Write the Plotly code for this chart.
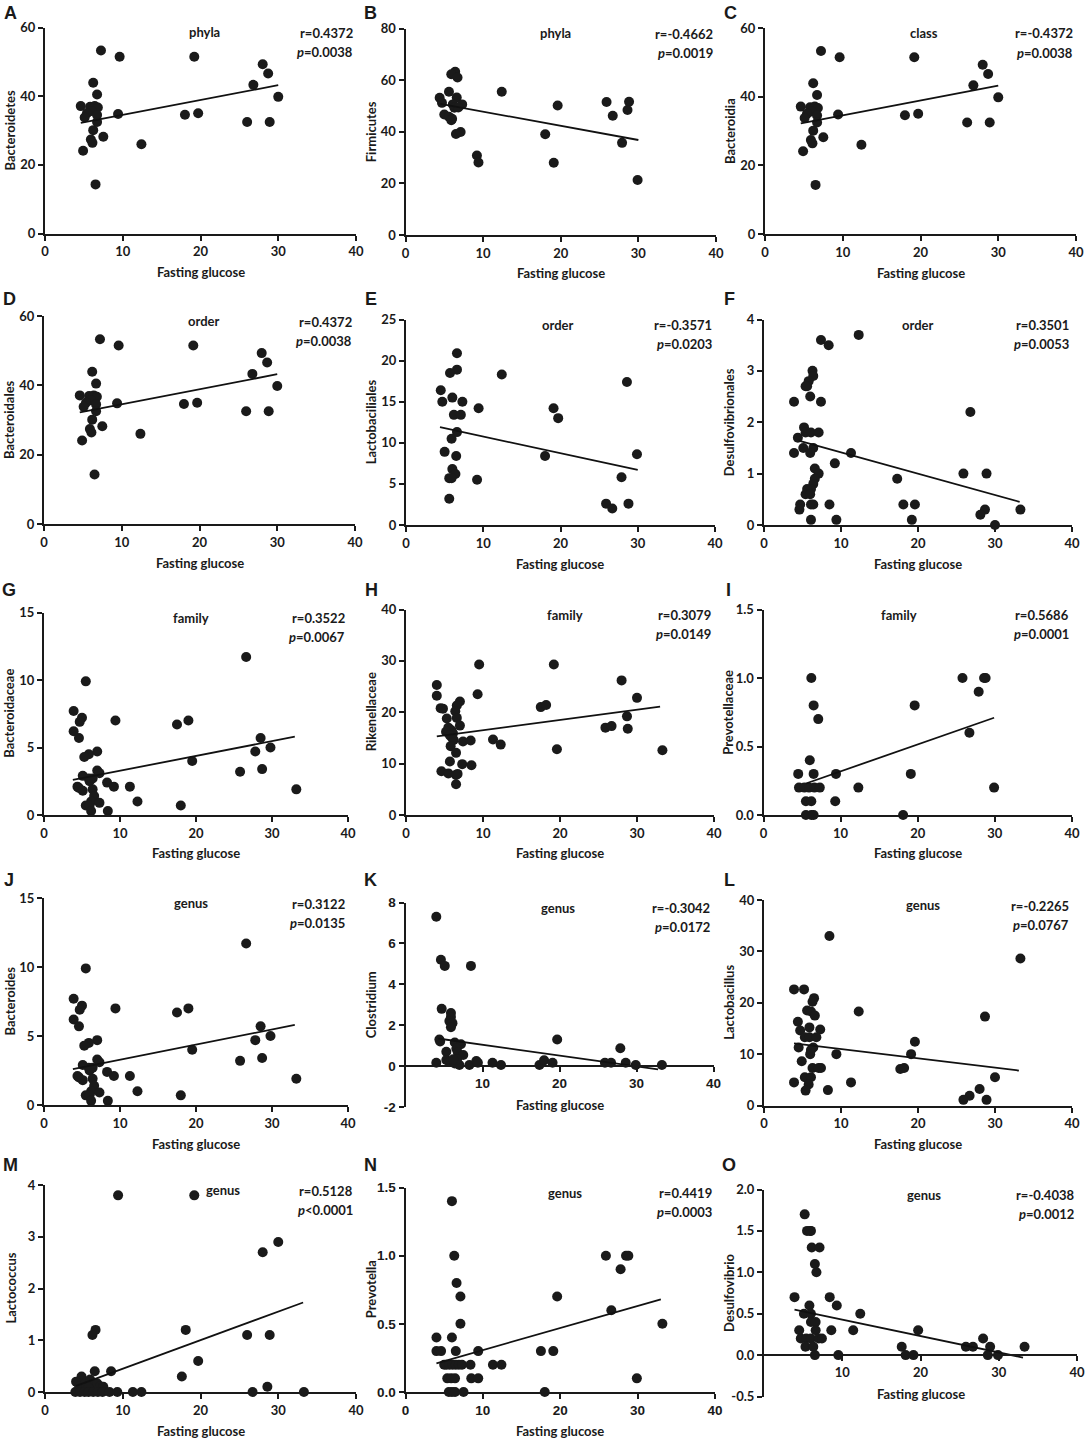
import plotly.graph_objects as go

W, H = 1087, 1440
FONT = "Lato"
ARIAL = "Liberation Sans"

# ---------------- data (x = fasting glucose) ----------------
bacteroidetes_x = [7.2, 9.6, 19.2, 28.0, 28.7, 26.8, 6.2, 6.7, 30.0, 4.6, 5.8, 6.4, 6.8, 6.0, 5.4,
                   6.7, 5.1, 9.4, 18.0, 19.7, 6.7, 26.0, 28.9, 6.2, 7.5, 5.9, 6.1, 12.4, 4.9, 6.5]
bacteroidetes_y = [53.3, 51.5, 51.5, 49.3, 46.6, 43.3, 43.9, 40.5, 39.8, 37.1, 36.9, 37.1, 36.7, 35.7, 35.0,
                   34.5, 33.8, 34.8, 34.6, 35.0, 32.5, 32.5, 32.5, 30.1, 28.2, 27.4, 26.4, 26.0, 24.1, 14.3]
bacteroidetes_fit = ([4.6, 30.0], [32.2, 43.2])

firmicutes_x = [6.4, 5.9, 6.7, 12.4, 5.6, 4.4, 6.6, 4.7, 7.3, 6.1, 6.3, 6.8, 19.6, 25.9, 28.8,
                28.6, 26.7, 5.0, 5.6, 6.0, 5.9, 6.5, 7.1, 18.0, 27.9, 9.2, 9.4, 19.1, 29.9]
firmicutes_y = [63.2, 62.3, 61.0, 55.5, 55.5, 53.2, 53.3, 51.2, 50.6, 50.6, 49.3, 49.4, 50.2, 51.5, 51.6,
                48.4, 46.2, 46.7, 45.8, 45.0, 44.5, 39.1, 39.9, 39.0, 35.7, 30.8, 28.1, 28.0, 21.3]
firmicutes_fit = ([4.5, 30.0], [50.8, 36.8])

lactobacillales_x = [6.6, 6.6, 5.7, 12.4, 28.6, 4.5, 6.0, 4.7, 7.3, 9.4, 19.1, 19.7, 6.2, 7.1, 6.6,
                     5.9, 5.0, 6.5, 18.0, 29.9, 6.0, 6.4, 5.6, 5.9, 9.2, 27.9, 5.6, 25.9, 26.7, 28.8]
lactobacillales_y = [20.9, 18.9, 18.5, 18.3, 17.4, 16.4, 15.5, 15.0, 15.0, 14.2, 14.2, 13.0, 13.4, 13.4, 11.3,
                     10.5, 8.9, 8.4, 8.4, 8.6, 6.8, 6.2, 5.7, 5.7, 5.5, 5.8, 3.2, 2.6, 2.0, 2.6]
lactobacillales_fit = ([4.4, 30.0], [11.9, 6.7])

desulfovibrionales_x = [12.3, 7.4, 8.4, 6.3, 6.4, 5.8, 5.6, 5.4, 6.0, 3.9, 7.4, 26.8, 5.2, 5.4, 6.1, 7.1,
                        4.4, 5.1, 6.4, 3.9, 6.0, 11.3, 9.2, 6.6, 7.1, 6.6, 17.3, 25.9, 28.9, 6.4, 6.1, 5.6,
                        5.4, 6.0, 4.7, 6.1, 6.4, 8.5, 18.1, 19.6, 4.6, 28.7, 28.1, 33.3, 6.1, 9.4, 19.2, 30.0]
desulfovibrionales_y = [3.7, 3.6, 3.5, 3.0, 2.9, 2.8, 2.7, 2.7, 2.5, 2.4, 2.4, 2.2, 1.9, 1.8, 1.8, 1.8,
                        1.7, 1.5, 1.5, 1.4, 1.4, 1.4, 1.2, 1.1, 1.0, 0.9, 0.9, 1.0, 1.0, 0.8, 0.7, 0.7,
                        0.6, 0.6, 0.4, 0.4, 0.4, 0.4, 0.4, 0.4, 0.3, 0.3, 0.2, 0.3, 0.1, 0.1, 0.1, 0.0]
desulfovibrionales_fit = ([4.5, 33.2], [1.64, 0.45])

bacteroidaceae_x = [26.6, 5.5, 3.9, 5.0, 4.7, 9.4, 19.0, 17.5, 3.9, 4.6, 28.5, 29.8, 27.8, 7.0, 5.9,
                    5.3, 19.5, 7.0, 7.3, 25.8, 28.7, 5.1, 5.9, 6.4, 6.0, 8.3, 4.4, 4.6, 9.2, 11.3,
                    33.2, 5.1, 6.4, 6.6, 6.2, 7.3, 12.3, 5.5, 6.0, 18.0, 6.2, 8.4]
bacteroidaceae_y = [11.7, 9.9, 7.7, 7.2, 6.9, 7.0, 7.0, 6.7, 6.2, 5.7, 5.7, 5.0, 4.7, 4.7, 4.5,
                    4.3, 4.0, 3.3, 3.1, 3.2, 3.4, 2.9, 2.7, 2.7, 2.5, 2.4, 2.1, 2.0, 2.1, 2.1,
                    1.9, 1.8, 1.9, 1.4, 1.0, 0.9, 1.0, 0.7, 0.7, 0.7, 0.3, 0.3]
bacteroidaceae_fit = ([3.8, 33.0], [2.6, 5.8])

rikenellaceae_x = [9.5, 19.2, 28.0, 4.0, 4.0, 9.3, 30.0, 4.5, 4.8, 5.3, 7.0, 6.6, 6.4, 6.6, 7.0,
                   5.5, 5.9, 5.2, 6.1, 5.7, 6.0, 6.2, 7.4, 8.4, 5.8, 6.5, 5.7, 7.3, 8.5, 4.6,
                   5.5, 6.5, 6.7, 6.5, 11.3, 12.3, 17.5, 18.2, 19.6, 25.9, 26.7, 28.7, 28.8, 33.3]
rikenellaceae_y = [29.3, 29.3, 26.2, 25.3, 23.2, 23.5, 22.8, 20.8, 20.7, 18.8, 22.1, 21.3, 20.2, 18.9, 17.4,
                   17.0, 16.5, 16.2, 15.9, 15.5, 15.0, 14.6, 14.3, 14.5, 13.4, 12.1, 10.4, 9.9, 9.7, 8.5,
                   8.1, 7.8, 8.0, 6.0, 14.7, 13.7, 21.0, 21.4, 12.8, 17.0, 17.3, 19.2, 16.8, 12.6]
rikenellaceae_fit = ([4.0, 33.0], [15.3, 21.1])

prevotellaceae_x = [6.2, 25.8, 28.6, 28.8, 27.9, 6.5, 19.6, 7.1, 26.7, 6.0, 4.5, 6.5, 9.4, 19.1,
                    4.6, 5.3, 5.9, 6.6, 7.3, 12.3, 29.9, 5.5, 6.2, 9.3, 5.5, 6.2, 6.5, 18.1]
prevotellaceae_y = [1.0, 1.0, 1.0, 1.0, 0.9, 0.8, 0.8, 0.7, 0.6, 0.4, 0.3, 0.3, 0.3, 0.3,
                    0.2, 0.2, 0.2, 0.2, 0.2, 0.2, 0.2, 0.1, 0.1, 0.1, 0.0, 0.0, 0.0, 0.0]
prevotellaceae_fit = ([5.5, 29.9], [0.23, 0.71])

clostridium_x = [4.0, 4.6, 5.1, 8.5, 4.7, 5.9, 5.9, 5.7, 6.1, 5.9, 19.7, 4.4, 4.5, 6.4, 7.2, 27.9,
                 5.3, 6.6, 6.8, 7.5, 4.0, 5.3, 5.7, 6.4, 7.0, 6.7, 6.2, 8.3, 9.2, 9.4, 11.3, 12.4,
                 17.4, 18.0, 19.1, 25.9, 26.7, 28.6, 29.9, 33.3]
clostridium_y = [7.3, 5.2, 4.9, 4.9, 2.8, 2.6, 2.4, 2.2, 2.1, 1.9, 1.3, 1.3, 1.2, 1.15, 1.07, 0.87,
                 0.7, 0.85, 0.66, 0.54, 0.16, 0.3, 0.2, 0.13, 0.05, 0.33, 0.33, 0.05, 0.25, 0.16, 0.16, 0.05,
                 0.05, 0.28, 0.16, 0.16, 0.16, 0.16, 0.05, 0.05]
clostridium_fit = ([4.2, 32.8], [1.35, -0.16])

lactobacillus_x = [8.5, 33.3, 3.9, 5.2, 6.5, 6.3, 12.3, 5.6, 6.1, 6.6, 28.7, 4.4, 5.9, 4.7, 7.3,
                   5.3, 5.9, 6.8, 19.6, 4.5, 6.4, 6.1, 6.0, 9.4, 19.1, 4.9, 6.3, 7.4, 7.1, 17.7,
                   18.2, 30.0, 3.9, 11.3, 5.3, 6.1, 5.8, 5.4, 8.3, 28.0, 26.7, 25.9, 28.9]
lactobacillus_y = [33.0, 28.6, 22.6, 22.6, 20.9, 20.2, 18.3, 18.5, 18.3, 17.5, 17.3, 16.3, 15.2, 14.6, 14.8,
                   13.3, 13.3, 13.3, 12.4, 11.3, 11.3, 10.8, 10.0, 10.0, 10.0, 8.6, 7.3, 7.3, 7.3, 7.1,
                   7.3, 5.5, 4.5, 4.5, 5.5, 5.5, 4.1, 2.9, 3.0, 3.2, 1.9, 1.1, 1.1]
lactobacillus_fit = ([3.9, 33.1], [12.1, 6.8])

lactococcus_x = [9.4, 19.2, 30.0, 28.0, 6.5, 6.1, 18.1, 26.0, 28.9, 19.7, 6.4, 8.5, 17.6, 4.7, 4.0,
                 28.6, 4.4, 5.2, 5.8, 6.0, 6.7, 7.1, 7.5, 5.6, 3.9, 4.5, 5.1, 5.6, 6.2, 6.8,
                 7.4, 8.3, 9.3, 11.3, 12.4, 26.7, 33.3]
lactococcus_y = [3.8, 3.8, 2.9, 2.7, 1.2, 1.1, 1.2, 1.1, 1.1, 0.6, 0.4, 0.4, 0.3, 0.3, 0.2,
                 0.1, 0.1, 0.17, 0.24, 0.14, 0.17, 0.11, 0.1, 0.08, 0, 0, 0, 0, 0, 0,
                 0, 0, 0, 0, 0, 0, 0]
lactococcus_fit = ([4.0, 33.2], [0.12, 1.73])

prevotella_x = [6.0, 6.3, 25.9, 28.5, 28.8, 27.8, 6.6, 7.1, 19.6, 26.6, 7.1, 33.2, 4.0, 6.0, 4.0,
                4.6, 6.5, 9.4, 17.5, 19.1, 5.0, 5.3, 5.7, 6.1, 6.5, 6.9, 7.3, 8.4, 11.3, 12.4,
                5.4, 5.9, 6.4, 8.5, 9.4, 29.9, 5.6, 6.0, 6.4, 7.5, 18.0]
prevotella_y = [1.4, 1.0, 1.0, 1.0, 1.0, 0.9, 0.8, 0.7, 0.7, 0.6, 0.5, 0.5, 0.4, 0.4, 0.3,
                0.3, 0.3, 0.3, 0.3, 0.3, 0.2, 0.2, 0.2, 0.2, 0.2, 0.2, 0.2, 0.2, 0.2, 0.2,
                0.1, 0.1, 0.1, 0.1, 0.1, 0.1, 0.0, 0.0, 0.0, 0.0, 0.0]
prevotella_fit = ([4.0, 33.0], [0.21, 0.68])

desulfovibrio_x = [5.2, 5.5, 6.0, 5.9, 6.1, 7.1, 6.5, 6.7, 3.9, 8.4, 5.8, 9.3, 5.1, 6.0, 12.3,
                   6.0, 6.6, 4.5, 6.6, 8.6, 11.4, 19.7, 4.7, 5.4, 6.0, 7.0, 7.4, 28.0, 5.3, 6.3,
                   17.6, 25.8, 26.7, 28.9, 33.3, 6.5, 9.5, 18.1, 19.1, 28.6, 29.9]
desulfovibrio_y = [1.7, 1.5, 1.5, 1.5, 1.3, 1.3, 1.1, 1.0, 0.7, 0.7, 0.6, 0.6, 0.5, 0.5, 0.5,
                   0.4, 0.4, 0.3, 0.3, 0.3, 0.3, 0.3, 0.2, 0.2, 0.2, 0.2, 0.2, 0.2, 0.1, 0.1,
                   0.1, 0.1, 0.1, 0.1, 0.1, 0.0, 0.0, 0.0, 0.0, 0.0, 0.0]
desulfovibrio_fit = ([3.9, 33.1], [0.55, -0.03])

letters = list("ABCDEFGHIJKLMNO")
taxa = ["Bacteroidetes", "Firmicutes", "Bacteroidia", "Bacteroidales", "Lactobaciliales",
        "Desulfovibrionales", "Bacteroidaceae", "Rikenellaceae", "Prevotellaceae", "Bacteroides",
        "Clostridium", "Lactobacillus", "Lactococcus", "Prevotella", "Desulfovibrio"]
ranks = ["phyla", "phyla", "class", "order", "order", "order", "family", "family", "family",
         "genus", "genus", "genus", "genus", "genus", "genus"]
r_vals = ["0.4372", "-0.4662", "-0.4372", "0.4372", "-0.3571", "0.3501", "0.3522", "0.3079", "0.5686",
          "0.3122", "-0.3042", "-0.2265", "0.5128", "0.4419", "-0.4038"]
p_vals = ["=0.0038", "=0.0019", "=0.0038", "=0.0038", "=0.0203", "=0.0053", "=0.0067", "=0.0149", "=0.0001",
          "=0.0135", "=0.0172", "=0.0767", "<0.0001", "=0.0003", "=0.0012"]
series = [
    (bacteroidetes_x, bacteroidetes_y, bacteroidetes_fit),
    (firmicutes_x, firmicutes_y, firmicutes_fit),
    (bacteroidetes_x, bacteroidetes_y, bacteroidetes_fit),
    (bacteroidetes_x, bacteroidetes_y, bacteroidetes_fit),
    (lactobacillales_x, lactobacillales_y, lactobacillales_fit),
    (desulfovibrionales_x, desulfovibrionales_y, desulfovibrionales_fit),
    (bacteroidaceae_x, bacteroidaceae_y, bacteroidaceae_fit),
    (rikenellaceae_x, rikenellaceae_y, rikenellaceae_fit),
    (prevotellaceae_x, prevotellaceae_y, prevotellaceae_fit),
    (bacteroidaceae_x, bacteroidaceae_y, bacteroidaceae_fit),
    (clostridium_x, clostridium_y, clostridium_fit),
    (lactobacillus_x, lactobacillus_y, lactobacillus_fit),
    (lactococcus_x, lactococcus_y, lactococcus_fit),
    (prevotella_x, prevotella_y, prevotella_fit),
    (desulfovibrio_x, desulfovibrio_y, desulfovibrio_fit),
]
y_ranges = [(0, 60), (0, 80), (0, 60), (0, 60), (0, 25), (0, 4), (0, 15), (0, 40), (0, 1.5),
            (0, 15), (-2, 8), (0, 40), (0, 4), (0, 1.5), (-0.5, 2.0)]
y_dticks = [20, 20, 20, 20, 5, 1, 5, 10, 0.5, 5, 2, 10, 1, 0.5, 0.5]

# ---------------- layout (pixel boxes: left, right, top, bottom) ----------------
boxes = [
    (45, 356, 27.5, 233.5), (405.5, 716, 28.5, 235), (765, 1076, 28, 234),
    (44, 355, 316, 524), (406, 715, 319.5, 525), (764, 1072, 319.5, 525),
    (44, 348, 612.5, 815), (406, 714, 609.5, 815), (763.5, 1072, 609.5, 815),
    (44, 348, 898, 1105), (405.5, 713.5, 902.5, 1107), (764, 1072, 900, 1105.5),
    (45, 356, 1185, 1392), (405.5, 715, 1187.5, 1392), (764, 1077, 1189.5, 1396.5),
]
rank_pos = [20.5, 19.3, 20.5, 20.5, 19.6, 19.9, 19.4, 20.6, 17.6, 19.4, 19.8, 20.6, 22.9, 20.6, 20.4]
letter_rows = [13, 299, 590, 880, 1165]
arial_ticks = {"K", "N"}


def fx(px):
    return px / W


def fy(py):
    return 1 - py / H


def tick_labels(lo, hi, step, skip_zero=False):
    n = int(round((hi - lo) / step))
    vals = [round(lo + k * step, 6) for k in range(n + 1)]
    if skip_zero:
        vals = [v for v in vals if v != 0]
    fmt = ".1f" if step < 1 else "g"
    return vals, ["<b>" + format(v, fmt) + "</b>" for v in vals]


def label(x, y, text, size=13, family=FONT, xanchor="center", angle=0):
    return dict(x=fx(x), y=fy(y), xref="paper", yref="paper", text="<b>" + text + "</b>",
                showarrow=False, xanchor=xanchor, yanchor="middle", textangle=angle,
                font=dict(family=family, size=size, color="#1a1a1a"))


fig = go.Figure()
layout_axes = {}
annotations = []

for i in range(15):
    n = "" if i == 0 else str(i + 1)
    left, right, top, bottom = boxes[i]
    ymin, ymax = y_ranges[i]
    xs, ys, fit = series[i]

    fig.add_trace(go.Scatter(x=xs, y=ys, mode="markers", xaxis="x" + n, yaxis="y" + n,
                             marker=dict(size=10, color="#1a1a1a"), cliponaxis=False,
                             showlegend=False, hoverinfo="skip"))
    fig.add_trace(go.Scatter(x=fit[0], y=fit[1], mode="lines", xaxis="x" + n, yaxis="y" + n,
                             line=dict(color="#111111", width=1.8), cliponaxis=False,
                             showlegend=False, hoverinfo="skip"))

    if letters[i] in arial_ticks:
        tf = dict(family=ARIAL, size=13.5, color="#1a1a1a")
    else:
        tf = dict(family=FONT, size=13, color="#1a1a1a")

    common = dict(showgrid=False, zeroline=False, showline=True, linecolor="#1a1a1a", linewidth=2,
                  ticks="outside", ticklen=5, tickwidth=2, tickcolor="#1a1a1a", tickfont=tf,
                  tickmode="array", automargin=False, fixedrange=True)
    xv, xt = tick_labels(0, 40, 10, skip_zero=ymin < 0)
    xa = dict(domain=[fx(left), fx(right)], range=[0, 40], anchor="y" + n,
              tickvals=xv, ticktext=xt, **common)
    zero_py = top + (ymax - 0) / (ymax - ymin) * (bottom - top)
    if ymin < 0:
        xa.update(anchor="free", position=fy(zero_py))
    yv, yt = tick_labels(ymin, ymax, y_dticks[i])
    ya = dict(domain=[fy(bottom), fy(top)], range=[ymin, ymax], anchor="x" + n,
              tickvals=yv, ticktext=yt, **common)
    layout_axes["xaxis" + n] = xa
    layout_axes["yaxis" + n] = ya

    # texts
    annotations.append(label(left - 35, letter_rows[i // 3], letters[i], size=18, family=ARIAL))
    annotations.append(label(left - 35, (top + bottom) / 2, taxa[i], angle=-90))
    annotations.append(label((left + right) / 2, zero_py + 38.5, "Fasting glucose"))
    annotations.append(label(left + rank_pos[i] / 40 * (right - left), top + 5, ranks[i]))
    annotations.append(label(right - 1.5, top + 5.5, "r=" + r_vals[i], xanchor="right"))
    annotations.append(label(right - 1.5, top + 24.5, "<i>p</i>" + p_vals[i], xanchor="right"))

fig.update_layout(width=W, height=H, autosize=False, margin=dict(l=0, r=0, t=0, b=0, autoexpand=False),
                  paper_bgcolor="white", plot_bgcolor="white", showlegend=False,
                  annotations=annotations, **layout_axes)

# drop the page's default body margin so the figure sits at the window's corner
fig.write_html("out.html", config={"displayModeBar": False},
               post_script="document.body.style.margin='0';"
                           "document.documentElement.style.overflow='hidden';")
